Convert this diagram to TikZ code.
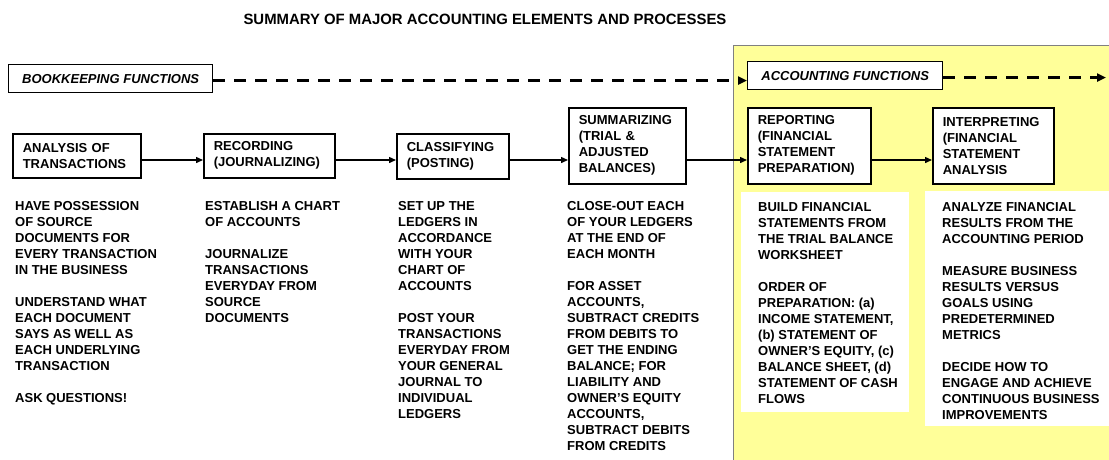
\documentclass[tikz,border=0pt]{standalone}
\usepackage{fontspec}
\setmainfont{Liberation Sans}
\usetikzlibrary{arrows.meta}
\definecolor{paleyellow}{HTML}{FFFF99}
\begin{document}
\begin{tikzpicture}[x=1pt,y=-1pt,
  every node/.style={font=\bfseries\fontsize{13}{16}\selectfont},
  proc/.style={draw, fill=white, line width=1.6pt, align=left, anchor=north west, inner xsep=10pt, inner ysep=0pt},
  func/.style={draw, fill=white, line width=1.4pt, anchor=north west, inner xsep=6pt, inner ysep=0pt, minimum height=28pt, font=\bfseries\itshape\fontsize{13}{16}\selectfont},
  flow/.style={line width=1.4pt, -{Triangle[length=7pt,width=6pt]}},
  dashflow/.style={line width=2.6pt, dash pattern=on 12pt off 9pt, -{Triangle[length=9pt,width=8pt]}},
  desc/.style={anchor=north west, align=left, inner sep=0pt},
  panel/.style={fill=white, draw=none, anchor=north west, inner sep=0pt}]
\useasboundingbox (0,0) rectangle (1109,459);
\fill[white] (0,0) rectangle (1109,459);
% accounting area
\draw[fill=paleyellow, draw=gray, line width=1pt] (733,45) rectangle (1120,470);
\node[panel, minimum width=168pt, minimum height=220pt] (wp5) at (741,192) {};
\node[panel, minimum width=190pt, minimum height=235pt] (wp6) at (925,191) {};
% title
\node[font=\bfseries\fontsize{14.9}{18}\selectfont, anchor=base] (title) at (485,24) {SUMMARY OF MAJOR ACCOUNTING ELEMENTS AND PROCESSES};
% function labels
\node[func, minimum width=204pt] (book) at (8,64) {BOOKKEEPING FUNCTIONS};
\node[func, minimum width=195pt] (acc) at (747,61) {ACCOUNTING FUNCTIONS};
\coordinate (dl) at (0,80.5);
\coordinate (dr) at (0,77.5);
\coordinate (dend) at (1106,77.5);
\draw[dashflow] (book.east |- dl) -- (acc.west |- dl);
\draw[dashflow] (acc.east |- dr) -- (dend);
% process boxes
\node[proc, text width=108pt, minimum height=44pt] (ana) at (12,133) {ANALYSIS OF\\TRANSACTIONS};
\node[proc, text width=111pt, minimum height=44pt] (rec) at (203,133) {RECORDING\\(JOURNALIZING)};
\node[proc, text width=92pt, minimum height=45pt] (cla) at (396,133) {CLASSIFYING\\(POSTING)};
\node[proc, text width=97pt, minimum height=76pt] (sum) at (568,107) {SUMMARIZING\\(TRIAL \&\\ADJUSTED\\BALANCES)};
\node[proc, text width=103pt, minimum height=76pt] (rep) at (747,107) {REPORTING\\(FINANCIAL\\STATEMENT\\PREPARATION)};
\node[proc, text width=101pt, minimum height=76pt] (int) at (932,107) {INTERPRETING\\(FINANCIAL\\STATEMENT\\ANALYSIS};
\coordinate (yl) at (0,160);
\draw[flow] (ana.east |- yl) -- (rec.west |- yl);
\draw[flow] (rec.east |- yl) -- (cla.west |- yl);
\draw[flow] (cla.east |- yl) -- (sum.west |- yl);
\draw[flow] (sum.east |- yl) -- (rep.west |- yl);
\draw[flow] (rep.east |- yl) -- (int.west |- yl);
% descriptions
\node[desc] (d1) at (15,201) {HAVE POSSESSION\\OF SOURCE\\DOCUMENTS FOR\\EVERY TRANSACTION\\IN THE BUSINESS\\[16pt]UNDERSTAND WHAT\\EACH DOCUMENT\\SAYS AS WELL AS\\EACH UNDERLYING\\TRANSACTION\\[16pt]ASK QUESTIONS!};
\node[desc] (d2) at (205,201) {ESTABLISH A CHART\\OF ACCOUNTS\\[16pt]JOURNALIZE\\TRANSACTIONS\\EVERYDAY FROM\\SOURCE\\DOCUMENTS};
\node[desc] (d3) at (398,201) {SET UP THE\\LEDGERS IN\\ACCORDANCE\\WITH YOUR\\CHART OF\\ACCOUNTS\\[16pt]POST YOUR\\TRANSACTIONS\\EVERYDAY FROM\\YOUR GENERAL\\JOURNAL TO\\INDIVIDUAL\\LEDGERS};
\node[desc] (d4) at (567,201) {CLOSE-OUT EACH\\OF YOUR LEDGERS\\AT THE END OF\\EACH MONTH\\[16pt]FOR ASSET\\ACCOUNTS,\\SUBTRACT CREDITS\\FROM DEBITS TO\\GET THE ENDING\\BALANCE; FOR\\LIABILITY AND\\OWNER’S EQUITY\\ACCOUNTS,\\SUBTRACT DEBITS\\FROM CREDITS};
\node[desc] (d5) at (758,202) {BUILD FINANCIAL\\STATEMENTS FROM\\THE TRIAL BALANCE\\WORKSHEET\\[16pt]ORDER OF\\PREPARATION: (a)\\INCOME STATEMENT,\\(b) STATEMENT OF\\OWNER’S EQUITY, (c)\\BALANCE SHEET, (d)\\STATEMENT OF CASH\\FLOWS};
\node[desc] (d6) at (942,202) {ANALYZE FINANCIAL\\RESULTS FROM THE\\ACCOUNTING PERIOD\\[16pt]MEASURE BUSINESS\\RESULTS VERSUS\\GOALS USING\\PREDETERMINED\\METRICS\\[16pt]DECIDE HOW TO\\ENGAGE AND ACHIEVE\\CONTINUOUS BUSINESS\\IMPROVEMENTS};
\end{tikzpicture}
\end{document}
